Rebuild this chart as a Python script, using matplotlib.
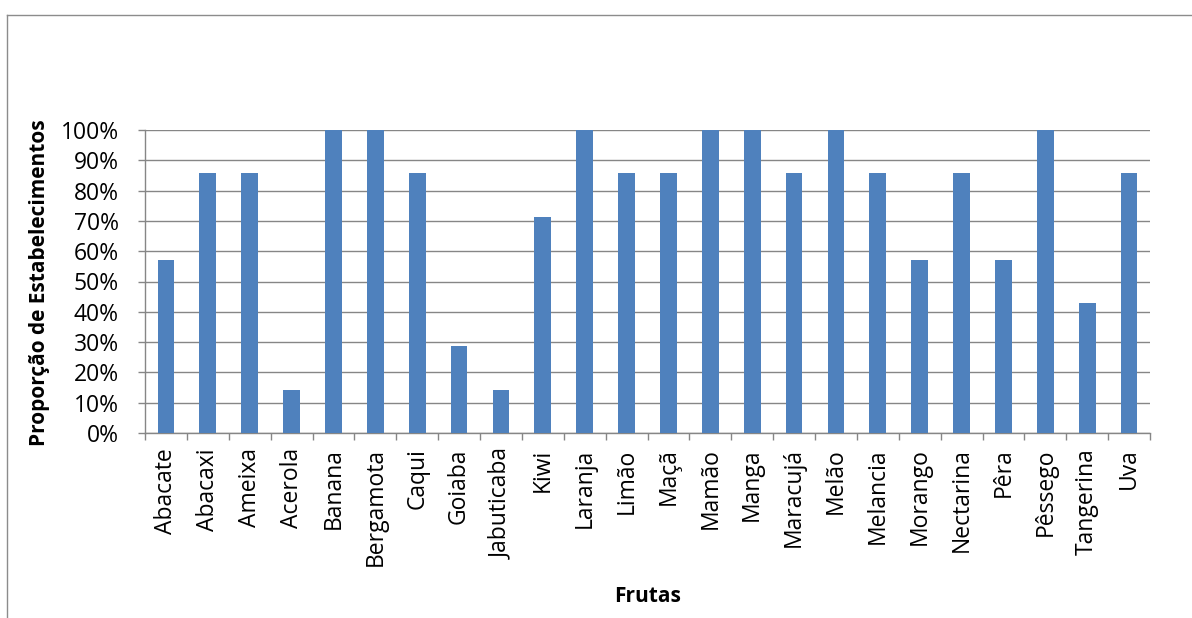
import matplotlib
matplotlib.use("Agg")
import matplotlib.pyplot as plt
from matplotlib.lines import Line2D
from matplotlib.ticker import PercentFormatter, FixedLocator
import numpy as np

frutas = ["Abacate", "Abacaxi", "Ameixa", "Acerola", "Banana", "Bergamota", "Caqui",
          "Goiaba", "Jabuticaba", "Kiwi", "Laranja", "Limão", "Maçã", "Mamão", "Manga",
          "Maracujá", "Melão", "Melancia", "Morango", "Nectarina", "Pêra", "Pêssego",
          "Tangerina", "Uva"]
proporcao = [0.571, 0.857, 0.857, 0.143, 1.0, 1.0, 0.857,
             0.286, 0.143, 0.714, 1.0, 0.857, 0.857, 1.0, 1.0,
             0.857, 1.0, 0.857, 0.571, 0.857, 0.571, 1.0,
             0.429, 0.857]
y_ticks = [i / 10 for i in range(11)]

plt.rcParams['font.family'] = ['Open Sans', 'DejaVu Sans']

fig = plt.figure(figsize=(11.92, 6.18), dpi=100)
W, H = 1192, 618
ax = fig.add_axes([145 / W, 1 - 433 / H, (1150 - 145) / W, (433 - 130) / H])

grid_c = "#868686"
x = np.arange(len(frutas))
ax.bar(x, proporcao, width=0.4, color="#4F81BD", zorder=3)
ax.set_xlim(-0.5, len(frutas) - 0.5)
ax.set_ylim(0, 1)
ax.yaxis.set_major_locator(FixedLocator(y_ticks))
ax.yaxis.set_major_formatter(PercentFormatter(1.0, decimals=0))
ax.grid(axis="y", color=grid_c, linewidth=1.0, zorder=0)

ax.set_xticks(x)
ax.set_xticklabels(frutas, rotation=90, fontsize=16.5)
ax.set_xticks(np.arange(len(frutas) + 1) - 0.5, minor=True)
ax.tick_params(axis="x", which="major", length=0, pad=11)
ax.tick_params(axis="x", which="minor", length=5, color=grid_c, width=1)
ax.tick_params(axis="y", length=5, color=grid_c, width=1, labelsize=16.5, pad=14)

for s in ["top", "right"]:
    ax.spines[s].set_visible(False)
for s in ["left", "bottom"]:
    ax.spines[s].set_color(grid_c)
    ax.spines[s].set_linewidth(1.0)

ax.set_xlabel("Frutas", fontsize=15, fontweight="bold")
ax.xaxis.set_label_coords(0.5, (433 - 596) / (433 - 130))
ax.xaxis.label.set_va("center")
ax.set_ylabel("Proporção de Estabelecimentos", fontsize=15, fontweight="bold")
ax.yaxis.set_label_coords((40 - 145) / (1150 - 145), (433 - 283) / (433 - 130))
ax.yaxis.label.set_va("center")

fig.add_artist(Line2D([7 / W, 7 / W], [0, 1 - 15 / H], transform=fig.transFigure, color="#8c8c8c", lw=1))
fig.add_artist(Line2D([7 / W, 1], [1 - 15 / H, 1 - 15 / H], transform=fig.transFigure, color="#8c8c8c", lw=1))

fig.savefig("out.png", dpi=100)
